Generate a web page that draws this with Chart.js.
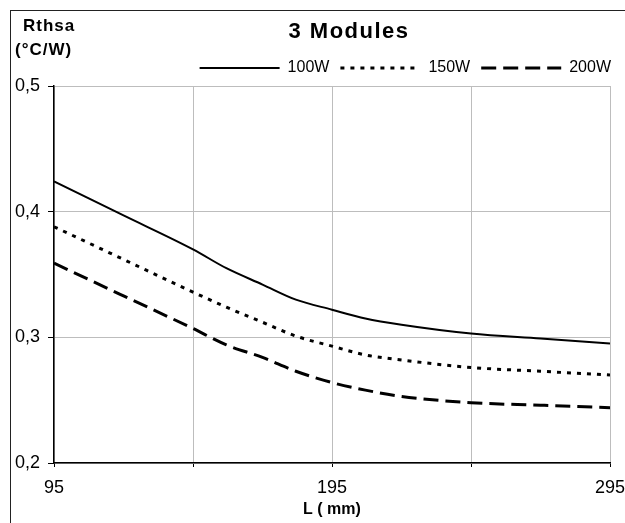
<!DOCTYPE html>
<html>
<head>
<meta charset="utf-8">
<script src="https://cdn.jsdelivr.net/npm/chart.js@4.4.1/dist/chart.umd.min.js"></script>
<style>
  body { margin: 0; background: #fff; }
  #wrap { position: relative; width: 625px; height: 523px; overflow: hidden; }
  #frame { position: absolute; left: 10px; top: 10px; width: 700px; height: 600px;
           border-left: 1.5px solid #222; border-top: 1.5px solid #222; }
  #plot-id { position: absolute; left: 0; top: 0; }
</style>
</head>
<body>
<div id="wrap">
  <div id="frame"></div>
  <canvas id="plot-id" width="625" height="523"></canvas>
</div>
<script>
// heat sink length (mm)
let lengths = [95, 120, 145, 157, 170, 182, 195, 207, 220, 245, 270, 295];
// Rthsa (°C/W) per power
let r100 = [0.424, 0.397, 0.370, 0.355, 0.342, 0.330, 0.322, 0.315, 0.310, 0.303, 0.299, 0.295];
let r150 = [0.388, 0.362, 0.336, 0.324, 0.312, 0.301, 0.293, 0.286, 0.282, 0.276, 0.273, 0.270];
let r200 = [0.359, 0.333, 0.307, 0.294, 0.284, 0.273, 0.264, 0.258, 0.253, 0.248, 0.246, 0.244];
let series_names = ['100W', '150W', '200W'];

let x_ticks = [95, 145, 195, 245, 295];
let x_tick_labels = ['95', '', '195', '', '295'];
let y_ticks = [0.2, 0.3, 0.4, 0.5];
let y_tick_labels = ['0,2', '0,3', '0,4', '0,5'];

const FONT = "Arial, 'Liberation Sans', sans-serif";

function pts(vals) {
    return lengths.map((l, i) => ({ x: l, y: vals[i] }));
}

// title and y unit sit in the corner, drawn as text
const corner_text = {
    id: 'corner_text',
    afterDraw(chart) {
        const ctx = chart.ctx;
        ctx.save();
        ctx.fillStyle = '#000';
        ctx.textBaseline = 'middle';
        ctx.textAlign = 'center';
        ctx.font = `bold 22px ${FONT}`;
        ctx.letterSpacing = '1.5px';
        ctx.fillText('3 Modules', 349, 32);
        ctx.textAlign = 'left';
        ctx.font = `bold 17px ${FONT}`;
        ctx.letterSpacing = '1px';
        ctx.fillText('Rthsa', 23, 26);
        ctx.fillText('(°C/W)', 15, 50);
        ctx.restore();
    }
};

var ctx = document.getElementById('plot-id');
var chart = new Chart(ctx, {
    type: 'line',
    data: {
        datasets: [
            {
                label: series_names[0],
                data: pts(r100),
                borderColor: '#000',
                borderWidth: 2,
                pointRadius: 0,
                cubicInterpolationMode: 'monotone'
            },
            {
                label: series_names[1],
                data: pts(r150),
                borderColor: '#000',
                borderWidth: 3,
                borderDash: [4, 6],
                pointRadius: 0,
                cubicInterpolationMode: 'monotone'
            },
            {
                label: series_names[2],
                data: pts(r200),
                borderColor: '#000',
                borderWidth: 3,
                borderDash: [15, 7],
                pointRadius: 0,
                cubicInterpolationMode: 'monotone'
            }
        ]
    },
    options: {
        responsive: false,
        animation: false,
        devicePixelRatio: 1,
        layout: { padding: { top: 49, left: 7, right: 3, bottom: 0 } },
        scales: {
            x: {
                type: 'linear',
                min: 95,
                max: 295,
                afterBuildTicks: (s) => { s.ticks = x_ticks.map(v => ({ value: v })); },
                afterFit: (s) => { s.height = 60; s.paddingRight = 15; },
                ticks: {
                    autoSkip: false,
                    maxRotation: 0,
                    padding: 10,
                    color: '#000',
                    font: { family: FONT, size: 18 },
                    callback: (v) => x_tick_labels[x_ticks.indexOf(v)]
                },
                grid: { color: '#bdbdbd', tickColor: '#000', tickLength: 4, lineWidth: 1 },
                border: { color: '#000', width: 1.5 },
                title: {
                    display: true,
                    text: 'L ( mm)',
                    color: '#000',
                    font: { family: FONT, size: 16, weight: 'bold' },
                    padding: { top: 4, bottom: 4 }
                }
            },
            y: {
                min: 0.2,
                max: 0.5,
                afterBuildTicks: (s) => { s.ticks = y_ticks.map(v => ({ value: v })); },
                ticks: {
                    padding: 8,
                    color: '#000',
                    font: { family: FONT, size: 18 },
                    callback: (v, i) => y_tick_labels[i]
                },
                grid: { color: '#bdbdbd', tickColor: '#000', tickLength: 6, lineWidth: 1 },
                border: { color: '#000', width: 1.5 }
            }
        },
        plugins: {
            title: { display: false },
            tooltip: { enabled: false },
            legend: {
                position: 'top',
                align: 'end',
                labels: {
                    usePointStyle: true,
                    pointStyle: 'line',
                    pointStyleWidth: 80,
                    padding: 11,
                    color: '#000',
                    font: { family: FONT, size: 16 },
                    generateLabels: (chart) => {
                        const items = Chart.defaults.plugins.legend.labels.generateLabels(chart);
                        items.forEach((it, i) => {
                            const ds = chart.data.datasets[i];
                            it.lineDash = ds.borderDash || [];
                            it.lineWidth = ds.borderWidth;
                            it.strokeStyle = ds.borderColor;
                            it.pointStyle = 'line';
                        });
                        return items;
                    }
                }
            }
        }
    },
    plugins: [corner_text]
});
</script>
</body>
</html>
